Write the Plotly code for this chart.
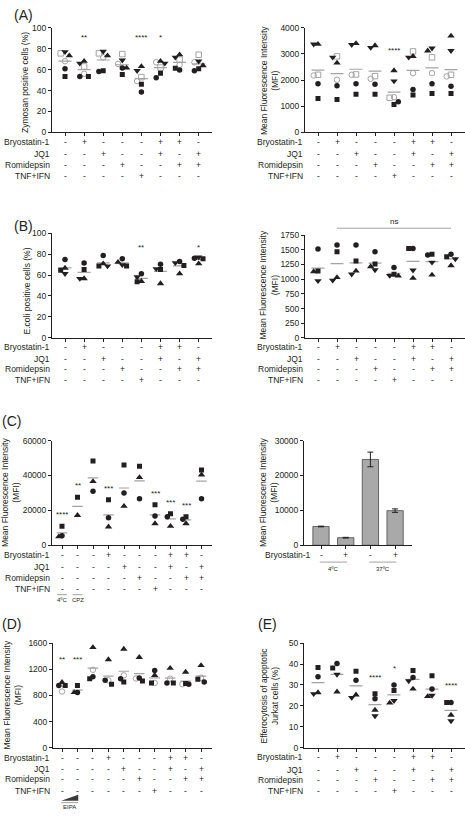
import plotly.graph_objects as go

W, H = 465, 816
FONT = "Liberation Sans, Arial, sans-serif"
INK = "#231f20"
GRAY = "#a3a3a3"

# ---------------- data ----------------
ROW_NAMES = ["Bryostatin-1", "JQ1", "Romidepsin", "TNF+IFN"]
TREAT8_BRYO = ["-", "+", "-", "-", "-", "+", "+", "-"]
TREAT8_JQ1 = ["-", "-", "+", "-", "-", "+", "-", "+"]
TREAT8_ROMI = ["-", "-", "-", "+", "-", "-", "+", "+"]
TREAT8_TNF = ["-", "-", "-", "-", "+", "-", "-", "-"]
TREAT10_BRYO = ["-", "-", "-", "+", "-", "-", "-", "+", "+", "-"]
TREAT10_JQ1 = ["-", "-", "-", "-", "+", "-", "-", "+", "-", "+"]
TREAT10_ROMI = ["-", "-", "-", "-", "-", "+", "-", "-", "+", "+"]
TREAT10_TNF = ["-", "-", "-", "-", "-", "-", "+", "-", "-", "-"]
C_CONTROL_LABELS = ["4ºC", "CPZ"]

# (A) zymosan, % positive cells
ZYM_CIRCLE = [60.7, 53.5, 58.2, 61.6, 38.7, 52.2, 59.7, 59.0]
ZYM_SQUARE = [53.5, 53.5, 59.0, 55.3, 46.0, 56.6, 61.3, 60.7]
ZYM_TRI_UP = [73.3, 68.0, 73.3, 61.6, 63.0, 68.0, 74.2, 63.8]
ZYM_TRI_DOWN = [77.0, 66.0, 77.4, 69.0, 59.0, 66.0, 71.7, 68.0]
ZYM_OPEN_CIRCLE = [68.0, 56.0, 71.7, 65.4, 49.0, 67.0, 64.5, 67.0]
ZYM_OPEN_SQUARE = [75.5, 63.0, 75.5, 74.8, 52.8, 62.0, 69.5, 74.2]
ZYM_STARS = ["", "**", "", "", "****", "*", "", ""]

# (A) zymosan, MFI
ZMFI_CIRCLE = [1862, 1786, 1862, 1837, 1170, 1635, 1862, 1761]
ZMFI_SQUARE = [1296, 1258, 1459, 1459, 1069, 1434, 1484, 1484]
ZMFI_TRI_UP = [3371, 2654, 3400, 3320, 2365, 2906, 3120, 3686]
ZMFI_TRI_DOWN = [3371, 2868, 3350, 3240, 1962, 2868, 3220, 3120]
ZMFI_OPEN_CIRCLE = [2176, 2013, 2201, 2050, 1346, 2264, 2264, 2139]
ZMFI_OPEN_SQUARE = [2201, 2906, 2214, 2151, 1321, 3095, 2868, 2201]
ZMFI_STARS = ["", "", "", "", "****", "", "", ""]

# (B) E. coli, % positive cells
ECOLI_CIRCLE = [74.8, 71.4, 78.6, 75.5, 61.3, 70.4, 73.0, 76.1]
ECOLI_SQUARE = [64.5, 65.4, 68.6, 68.6, 53.5, 65.4, 69.2, 75.5]
ECOLI_TRI_UP = [66.7, 56.6, 70.8, 72.3, 54.0, 51.9, 61.3, 70.8]
ECOLI_TRI_DOWN = [61.3, 56.6, 68.6, 69.8, 58.2, 66.0, 71.7, 77.0]
ECOLI_STARS = ["", "", "", "", "**", "", "", "*"]

# (B) E. coli, MFI
EMFI_CIRCLE = [1513, 1581, 1581, 1468, 1197, 1524, 1411, 1423]
EMFI_SQUARE = [1140, 1468, 1310, 1259, 1084, 1524, 1423, 1383]
EMFI_TRI_UP = [1129, 1030, 1140, 1214, 1056, 1016, 1073, 1231]
EMFI_TRI_DOWN = [971, 980, 1084, 1157, 1061, 1152, 1287, 1344]
EMFI_NS = "ns"

# (C) pinocytosis MFI (10 conditions)
PINO_CIRCLE = [5472, None, 30950, 15850, 30000, 26610, 16800, 16420, 14910, 26610]
PINO_SQUARE = [10945, 27550, 48300, 26040, 46040, 45290, 23210, 18110, 16420, 43210]
PINO_TRI_UP = [4906, 17170, 36600, 10570, 22450, 38870, 12450, 10950, 12450, 40380]
PINO_STARS = ["****", "**", "", "***", "", "", "***", "***", "***", ""]

# (C) bars
BAR_BRYO = ["-", "+", "-", "+"]
BAR_TEMPS = ["4ºC", "37ºC"]
BAR_MEAN = [5390, 2180, 24600, 9930]
BAR_ERR = [100, 100, 2100, 500]

# (D) macropinocytosis MFI (10 conditions)
MACRO_CIRCLE = [950, 845, 1086, 1031, 1056, 1066, 1182, 991, 971, 1006]
MACRO_SQUARE = [950, 950, 1056, 971, 1006, 1021, 991, 991, 981, 1046]
MACRO_TRI_UP = [1000, 845, 1534, 1348, 1509, 1383, 1107, 1217, 1157, 1258]
MACRO_OPEN_CIRCLE = [860, None, 1192, 1031, 1107, 1060, 991, 1056, 971, 1070]
MACRO_STARS = ["**", "***", "", "", "", "", "", "", "", ""]
MACRO_EIPA = "EIPA"

# (E) efferocytosis %
EFF_CIRCLE = [33.9, 40.3, 32.2, 23.4, 30.0, 33.6, 28.1, 21.6]
EFF_SQUARE = [38.3, 38.1, 36.6, 25.8, 27.3, 36.9, 34.4, 21.6]
EFF_TRI_UP = [26.4, 26.7, 25.3, 18.0, 21.4, 28.1, 24.5, 15.6]
EFF_TRI_DOWN = [25.8, 35.0, 24.0, 15.2, 22.5, 31.9, 25.0, 12.8]
EFF_STARS = ["", "", "", "****", "*", "", "", "****"]

# ---------------- styling ----------------
STYLE = {
    "circle": dict(symbol="circle", size=5.5, color=INK),
    "square": dict(symbol="square", size=5, color=INK),
    "tri_up": dict(symbol="triangle-up", size=6.5, color=INK),
    "tri_down": dict(symbol="triangle-down", size=6.5, color=INK),
    "open_circle": dict(symbol="circle-open", size=5.5, color=GRAY, line=dict(width=1, color=GRAY)),
    "open_square": dict(symbol="square-open", size=5.5, color=GRAY, line=dict(width=1, color=GRAY)),
}
TXT = 8.5      # table / tick font size
TITLE = 8.5    # axis title font size

fig = go.Figure()
layout = dict(width=W, height=H, margin=dict(l=0, r=0, t=0, b=0),
              paper_bgcolor="white", plot_bgcolor="white", showlegend=False,
              font=dict(family=FONT, size=8, color=INK))
annotations = []
shapes = []


def pxx(x):
    return x / W


def pxy(y):
    return 1 - y / H


def sfx_of(n):
    return "" if n == 1 else str(n)


def add_axes(n, xpx, ypx, cat0, step, ncat, ymax, dtick):
    s = sfx_of(n)
    lo = -(cat0 - xpx[0]) / step
    hi = (xpx[1] - cat0) / step
    layout["xaxis" + s] = dict(domain=[pxx(xpx[0]), pxx(xpx[1])], range=[lo, hi], anchor="y" + s,
                               showline=True, linecolor=INK, linewidth=1, ticks="outside", ticklen=3,
                               tickwidth=1, tickcolor=INK, tickmode="array", tickvals=list(range(ncat)),
                               showticklabels=False, showgrid=False, zeroline=False, fixedrange=True)
    layout["yaxis" + s] = dict(domain=[pxy(ypx[1]), pxy(ypx[0])], range=[0, ymax], anchor="x" + s,
                               showline=True, linecolor=INK, linewidth=1, ticks="outside", ticklen=3,
                               tickwidth=1, tickcolor=INK, tick0=0, dtick=dtick, tickformat="d",
                               tickfont=dict(size=TXT, color=INK), showgrid=False, zeroline=False,
                               fixedrange=True)


def swarm(vals, ppu, spread, ms):
    order = sorted(range(len(vals)), key=lambda k: -vals[k])
    placed = []
    offs = [0.0] * len(vals)
    for k in order:
        yk = vals[k] * ppu
        dx = 0.0
        for c in (0, -1, 1, -2, 2, -3, 3):
            dx = c * spread
            if all(abs(dx - px) >= spread * 0.9 or abs(yk - py) >= ms for px, py in placed):
                break
        placed.append((dx, yk))
        offs[k] = dx
    return offs


def add_table(n, rows_y, right_px, treat, names):
    s = sfx_of(n)
    for name, vals, ypx in zip(names, treat, rows_y):
        annotations.append(dict(text=name, xref="paper", yref="paper", x=pxx(right_px), y=pxy(ypx),
                                xanchor="right", yanchor="middle", showarrow=False, font=dict(size=TXT)))
        for i, v in enumerate(vals):
            annotations.append(dict(text=v, xref="x" + s, yref="paper", x=i, y=pxy(ypx),
                                    xanchor="center", yanchor="middle", showarrow=False,
                                    font=dict(size=TXT)))


def add_ytitle(text, xpx, ypx):
    annotations.append(dict(text=text, xref="paper", yref="paper", x=pxx(xpx), y=pxy(ypx),
                            xanchor="center", yanchor="middle", textangle=-90, showarrow=False,
                            font=dict(size=TITLE)))


def add_scatter_panel(p):
    n = p["n"]
    s = sfx_of(n)
    ncat = p["ncat"]
    add_axes(n, p["xpx"], p["ypx"], p["cat0"], p["step"], ncat, p["ymax"], p["dtick"])
    ppu = (p["ypx"][1] - p["ypx"][0]) / p["ymax"]
    xs = {key: [None] * ncat for key, _ in p["series"]}
    means, maxes = [], []
    for i in range(ncat):
        pts = [(key, vals[i]) for key, vals in p["series"] if vals[i] is not None]
        offs = swarm([v for _, v in pts], ppu, p["spread"], 4.8)
        for (key, v), o in zip(pts, offs):
            xs[key][i] = i + o / p["step"]
        vv = [v for _, v in pts]
        means.append(sum(vv) / len(vv))
        maxes.append(max(vv))
    mx, my = [], []
    for i, m in enumerate(means):
        mx += [i - 0.34, i + 0.34, None]
        my += [m, m, None]
    fig.add_trace(go.Scatter(x=mx, y=my, mode="lines", line=dict(color=GRAY, width=1.2),
                             xaxis="x" + s, yaxis="y" + s, hoverinfo="skip"))
    for key, vals in p["series"]:
        fig.add_trace(go.Scatter(x=xs[key], y=vals, mode="markers", marker=STYLE[key],
                                 xaxis="x" + s, yaxis="y" + s, hoverinfo="skip"))
    mode, val = p["star"]
    for i, st in enumerate(p["stars"]):
        if not st:
            continue
        y = val if mode == "fixed" else maxes[i] + val
        annotations.append(dict(text=st, xref="x" + s, yref="y" + s, x=i, y=y, xanchor="center",
                                yanchor="middle", showarrow=False, font=dict(size=8)))
    add_ytitle(p["title"], p["tx"], p["ty"])
    add_table(n, p["rows"], p["lab_right"], p["treat"], ROW_NAMES)


TREAT8 = [TREAT8_BRYO, TREAT8_JQ1, TREAT8_ROMI, TREAT8_TNF]
TREAT10 = [TREAT10_BRYO, TREAT10_JQ1, TREAT10_ROMI, TREAT10_TNF]
MFI_TITLE = "Mean Fluorescence Intensity<br>(MFI)"

PANELS = [
    dict(n=1, xpx=(52, 212), ypx=(23, 129), cat0=65, step=19.1, ncat=8, ymax=100, dtick=20,
         series=[("open_square", ZYM_OPEN_SQUARE), ("open_circle", ZYM_OPEN_CIRCLE),
                 ("circle", ZYM_CIRCLE), ("square", ZYM_SQUARE),
                 ("tri_up", ZYM_TRI_UP), ("tri_down", ZYM_TRI_DOWN)],
         stars=ZYM_STARS, star=("fixed", 91), title="Zymosan positive cells (%)", tx=25, ty=79,
         rows=[139, 151, 162, 173], lab_right=52, treat=TREAT8, spread=4.3),
    dict(n=2, xpx=(305, 465), ypx=(23, 129), cat0=318, step=19.0, ncat=8, ymax=4000, dtick=1000,
         series=[("open_square", ZMFI_OPEN_SQUARE), ("open_circle", ZMFI_OPEN_CIRCLE),
                 ("circle", ZMFI_CIRCLE), ("square", ZMFI_SQUARE),
                 ("tri_up", ZMFI_TRI_UP), ("tri_down", ZMFI_TRI_DOWN)],
         stars=ZMFI_STARS, star=("offset", 780), title=MFI_TITLE, tx=269, ty=77,
         rows=[139, 151, 162, 173], lab_right=305, treat=TREAT8, spread=4.3),
    dict(n=3, xpx=(52, 212), ypx=(231, 337), cat0=65, step=19.1, ncat=8, ymax=100, dtick=20,
         series=[("circle", ECOLI_CIRCLE), ("square", ECOLI_SQUARE),
                 ("tri_up", ECOLI_TRI_UP), ("tri_down", ECOLI_TRI_DOWN)],
         stars=ECOLI_STARS, star=("fixed", 86.5), title="E.coli positive cells (%)", tx=27, ty=290,
         rows=[346, 358, 369, 380], lab_right=52, treat=TREAT8, spread=4.3),
    dict(n=4, xpx=(305, 465), ypx=(233, 337), cat0=318, step=19.0, ncat=8, ymax=1750, dtick=250,
         series=[("circle", EMFI_CIRCLE), ("square", EMFI_SQUARE),
                 ("tri_up", EMFI_TRI_UP), ("tri_down", EMFI_TRI_DOWN)],
         stars=[""] * 8, star=("fixed", 0), title=MFI_TITLE, tx=269, ty=284,
         rows=[346, 358, 369, 380], lab_right=305, treat=TREAT8, spread=4.3),
    dict(n=5, xpx=(52, 212), ypx=(441, 547), cat0=62, step=15.5, ncat=10, ymax=60000, dtick=20000,
         series=[("circle", PINO_CIRCLE), ("square", PINO_SQUARE), ("tri_up", PINO_TRI_UP)],
         stars=PINO_STARS, star=("offset", 6500), title=MFI_TITLE, tx=11, ty=494,
         rows=[557, 569, 580, 591], lab_right=52, treat=TREAT10, spread=3.2),
    dict(n=7, xpx=(53, 212), ypx=(646, 752), cat0=62, step=15.45, ncat=10, ymax=1600, dtick=400,
         series=[("open_circle", MACRO_OPEN_CIRCLE), ("circle", MACRO_CIRCLE),
                 ("square", MACRO_SQUARE), ("tri_up", MACRO_TRI_UP)],
         stars=MACRO_STARS, star=("fixed", 1343), title=MFI_TITLE, tx=12, ty=699,
         rows=[762, 773, 784, 796], lab_right=52, treat=TREAT10, spread=3.2),
    dict(n=8, xpx=(304, 465), ypx=(646, 752), cat0=318, step=19.0, ncat=8, ymax=50, dtick=10,
         series=[("circle", EFF_CIRCLE), ("square", EFF_SQUARE),
                 ("tri_up", EFF_TRI_UP), ("tri_down", EFF_TRI_DOWN)],
         stars=EFF_STARS, star=("offset", 8), title="Efferocytosis of apoptotic<br>Jurkat cells (%)",
         tx=269, ty=699, rows=[761, 774, 785, 796], lab_right=305, treat=TREAT8, spread=4.3),
]

for p in PANELS:
    add_scatter_panel(p)

# ---- (C) right: bar chart ----
add_axes(6, (304, 412), (441, 547), 321, 24.7, 4, 30000, 10000)
fig.add_trace(go.Bar(x=list(range(len(BAR_MEAN))), y=BAR_MEAN, width=0.66,
                     marker=dict(color="#a9a9a9", line=dict(color="#4a4a4a", width=0.8)),
                     error_y=dict(type="data", array=BAR_ERR, color=INK, thickness=1, width=3),
                     xaxis="x6", yaxis="y6", hoverinfo="skip"))
add_ytitle(MFI_TITLE, 269, 494)
add_table(6, [557], 313, [BAR_BRYO], ROW_NAMES[:1])
for j, t in enumerate(BAR_TEMPS):
    shapes.append(dict(type="line", xref="x6", yref="paper", x0=2 * j - 0.05, x1=2 * j + 1.05,
                       y0=pxy(564), y1=pxy(564), line=dict(color=GRAY, width=1)))
    annotations.append(dict(text=t, xref="x6", yref="paper", x=2 * j + 0.5, y=pxy(571),
                            xanchor="center", yanchor="middle", showarrow=False, font=dict(size=6)))

# ---- (C) left: control labels ----
for i, t in enumerate(C_CONTROL_LABELS):
    shapes.append(dict(type="line", xref="x5", yref="paper", x0=i - 0.32, x1=i + 0.32,
                       y0=pxy(597), y1=pxy(597), line=dict(color=GRAY, width=1)))
    annotations.append(dict(text=t, xref="x5", yref="paper", x=i, y=pxy(602), xanchor="center",
                            yanchor="middle", showarrow=False, font=dict(size=6)))

# ---- (B) right: ns bracket ----
shapes.append(dict(type="line", xref="x4", yref="paper", x0=1, x1=7, y0=pxy(226), y1=pxy(226),
                   line=dict(color=GRAY, width=1)))
annotations.append(dict(text=EMFI_NS, xref="x4", yref="paper", x=4, y=pxy(219), xanchor="center",
                        yanchor="middle", showarrow=False, font=dict(size=8)))

# ---- (D) EIPA wedge ----
shapes.append(dict(type="path", xref="x7", yref="paper",
                   path="M -0.05,{a} L 1.05,{a} L 1.05,{b} Z".format(a=pxy(805.5), b=pxy(799.5)),
                   fillcolor="#3a3a3a", line=dict(width=0)))
shapes.append(dict(type="line", xref="x7", yref="paper", x0=-0.05, x1=1.05, y0=pxy(807.5),
                   y1=pxy(807.5), line=dict(color=GRAY, width=1)))
annotations.append(dict(text=MACRO_EIPA, xref="x7", yref="paper", x=0.5, y=pxy(811.5),
                        xanchor="center", yanchor="middle", showarrow=False, font=dict(size=6)))

# ---- panel letters ----
for lab, x, y in [("(A)", 12, 10), ("(B)", 12, 224), ("(C)", 0, 421), ("(D)", 0, 627), ("(E)", 256, 627)]:
    annotations.append(dict(text=lab, xref="paper", yref="paper", x=pxx(x), y=pxy(y), xanchor="left",
                            yanchor="middle", showarrow=False, font=dict(size=14)))

layout["annotations"] = annotations
layout["shapes"] = shapes
fig.update_layout(**layout)
fig.write_html("out.html", config={"displayModeBar": False},
               post_script="document.body.style.margin='0';document.body.style.overflow='hidden';")
